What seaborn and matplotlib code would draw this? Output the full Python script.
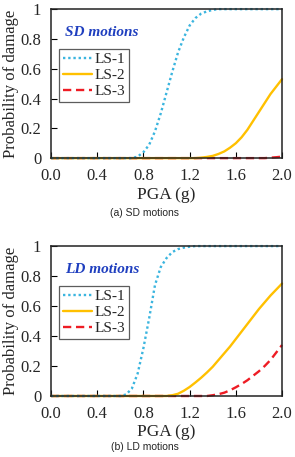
import numpy as np
import pandas as pd
import matplotlib
matplotlib.use('Agg')
import matplotlib.pyplot as plt
import seaborn as sns

# PGA grid (g) read every 0.05 g
pga = [round(0.05 * i, 2) for i in range(41)]

# SD motions
sd_ls1 = [0]*15 + [0.01, 0.04, 0.09, 0.18, 0.30, 0.44, 0.58, 0.71, 0.81, 0.89,
                   0.94, 0.97, 0.985, 0.995, 1.0] + [1.0]*11
sd_ls2 = [0]*26 + [0.003, 0.008, 0.015, 0.028, 0.045, 0.07, 0.10, 0.14, 0.19,
                   0.25, 0.31, 0.37, 0.43, 0.48, 0.53]
sd_ls3 = [0]*38 + [0.003, 0.006, 0.01]

# LD motions
ld_ls1 = [0]*13 + [0.01, 0.05, 0.15, 0.32, 0.52, 0.74, 0.86, 0.92, 0.96, 0.98,
                   0.99, 0.996, 1.0] + [1.0]*15
ld_ls2 = [0]*21 + [0.005, 0.015, 0.035, 0.06, 0.09, 0.122, 0.157, 0.195, 0.24,
                   0.285, 0.33, 0.38, 0.43, 0.48, 0.53, 0.58, 0.625, 0.67, 0.71, 0.75]
ld_ls3 = [0]*28 + [0.005, 0.012, 0.022, 0.038, 0.058, 0.08, 0.105, 0.135, 0.165,
                   0.20, 0.24, 0.29, 0.34]

states = ['LS-1', 'LS-2', 'LS-3']
colors = {'LS-1': '#3bb5df', 'LS-2': '#ffc000', 'LS-3': '#ee1c24'}
styles = {'LS-1': (0, (1, 1.2)), 'LS-2': '-', 'LS-3': (0, (3.5, 2))}

sns.set_style('ticks')
plt.rcParams['font.family'] = ['Liberation Serif', 'DejaVu Serif']

fig = plt.figure(figsize=(2.95, 4.57), dpi=100)
ax_a = fig.add_axes([0.173, 0.654, 0.783, 0.326])
ax_b = fig.add_axes([0.173, 0.1335, 0.783, 0.328])

panels = [
    (ax_a, 'SD motions', [sd_ls1, sd_ls2, sd_ls3], '(a) SD motions', 0.534),
    (ax_b, 'LD motions', [ld_ls1, ld_ls2, ld_ls3], '(b) LD motions', 0.022),
]

for ax, title, curves, caption, cy in panels:
    df = pd.concat([pd.DataFrame({'PGA': pga, 'P': c, 'LS': s})
                    for s, c in zip(states, curves)])
    for s in states[::-1]:
        sub = df[df['LS'] == s]
        sns.lineplot(data=sub, x='PGA', y='P', ax=ax, color=colors[s],
                     linestyle=styles[s], lw=1.7, label=s, clip_on=False)
    ax.set_xlim(0, 2.0)
    ax.set_ylim(0, 1)
    ax.set_xticks(np.arange(0, 2.01, 0.4))
    ax.set_xticklabels([f'{v:.1f}' for v in np.arange(0, 2.01, 0.4)])
    ax.set_yticks([0, 0.2, 0.4, 0.6, 0.8, 1.0])
    ax.set_yticklabels(['0', '0.2', '0.4', '0.6', '0.8', '1'])
    ax.tick_params(direction='in', labelsize=12, length=4, width=0.8, color='black')
    ax.tick_params(axis='x', pad=7)
    ax.tick_params(axis='y', pad=7)
    for sp in ax.spines.values():
        sp.set_visible(True)
        sp.set_linewidth(1.1)
        sp.set_color('#222222')
    ax.set_xlabel('PGA (g)', fontsize=12.5, labelpad=2)
    ax.set_ylabel('Probability of damage', fontsize=12, labelpad=1)
    ax.text(0.06, 0.82, title, transform=ax.transAxes, fontsize=11,
            fontweight='bold', fontstyle='italic', color='#1f3fbf')
    h, l = ax.get_legend_handles_labels()
    leg = ax.legend(h[::-1], l[::-1], loc='upper left', bbox_to_anchor=(0.035, 0.735),
                    fontsize=11, frameon=True, fancybox=False, handlelength=1.9,
                    handletextpad=0.2, borderpad=0.25, labelspacing=0.15,
                    borderaxespad=0)
    leg.get_frame().set_edgecolor('#333333')
    leg.get_frame().set_linewidth(0.9)
    fig.text(0.49, cy, caption, ha='center', va='center', fontsize=7.5,
             family=['Liberation Sans', 'DejaVu Sans'])

fig.savefig('out.png', dpi=100)
